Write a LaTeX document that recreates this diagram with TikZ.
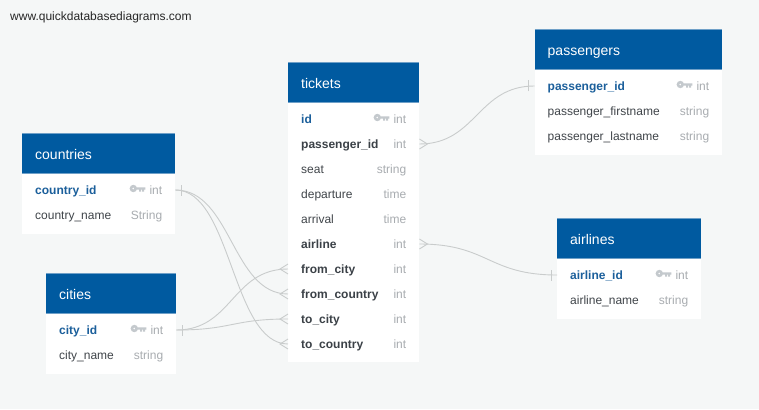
\documentclass[tikz,border=0pt]{standalone}
\usepackage{fontspec}
\setmainfont{Liberation Sans}
\definecolor{bgcol}{HTML}{F5F7F7}
\definecolor{headcol}{HTML}{005AA0}
\definecolor{edgecol}{HTML}{6FA0C8}
\definecolor{pkcol}{HTML}{1B5F9B}
\definecolor{fkcol}{HTML}{3B4147}
\definecolor{namecol}{HTML}{40454A}
\definecolor{typecol}{HTML}{A8ACB0}
\definecolor{linecol}{HTML}{C9CCCC}
\definecolor{keycol}{HTML}{C4C9CD}
\tikzset{
  tablebody/.style={fill=white,inner sep=0pt,anchor=north west},
  tablehead/.style={fill=headcol,inner sep=0pt,anchor=north west,minimum height=40pt},
  tabletitle/.style={text=white,font=\fontsize{14}{16}\selectfont,inner sep=0pt,anchor=west,text height=15pt,text depth=3pt},
  tablerow/.style={inner sep=0pt,anchor=west,minimum height=25pt},
  rowtext/.style={inner sep=0pt,text height=12pt,text depth=3pt,font=\fontsize{12}{14}\selectfont},
  rowname/.style={rowtext,anchor=west,text=namecol},
  rowfk/.style={rowtext,anchor=west,text=fkcol,font=\fontsize{12}{14}\selectfont\bfseries},
  rowpk/.style={rowtext,anchor=west,text=pkcol,font=\fontsize{12}{14}\selectfont\bfseries},
  rowtype/.style={rowtext,anchor=east,text=typecol},
  relation/.style={draw=linecol,line width=0.9pt}
}
% table: name, x, y, width, height, title
\newcommand{\dbtable}[6]{
  \node[tablebody,minimum width=#4pt,minimum height=#5pt] (#1) at (#2,#3) {};
  \node[tablehead,minimum width=#4pt] (#1-head) at (#2,#3) {};
  \draw[edgecol,line width=0.6pt] (#1-head.north west) -- (#1-head.north east);
  \draw[edgecol,line width=0.6pt] (#1-head.south west) -- (#1-head.south east);
  \node[tabletitle] (#1-title) at ([xshift=13pt]#1-head.west) {#6};
}
% row: name, x, y, width, text style, label, type
\newcommand{\dbrow}[7]{
  \node[tablerow,minimum width=#4pt] (#1) at (#2,#3) {};
  \node[#5] (#1-label) at ([xshift=13pt]#1.west) {#6};
  \node[rowtype] (#1-type) at ([xshift=-13pt]#1.east) {#7};
}
% key icon left of the type of a row
\newcommand{\dbkey}[1]{
  \begin{scope}[shift={([xshift=-4pt]#1-type.west)},x=1pt,y=1pt]
    \fill[keycol,even odd rule] (-12,1.5) circle (3.7pt) (-12,1.5) circle (1.1pt);
    \fill[keycol] (-9,2.7) -- (0,2.7) -- (0,0.4) -- (-1.3,0.4) -- (-1.3,-1.6) -- (-3.3,-1.6) -- (-3.3,0.4) -- (-4.3,0.4) -- (-4.3,-1.6) -- (-6.3,-1.6) -- (-6.3,0.4) -- (-9,0.4) -- cycle;
  \end{scope}
}
% the end marks of a relation
\newcommand{\onemark}[2]{
  \draw[relation] ([xshift=#2*6pt,yshift=-5.5pt]#1) -- ([xshift=#2*6pt,yshift=5.5pt]#1);
}
\newcommand{\manymark}[2]{
  \draw[relation] ([yshift=5pt]#1) -- ([xshift=#2*8pt]#1) -- ([yshift=-5pt]#1);
}
\begin{document}
\begin{tikzpicture}[x=1pt,y=-1pt]
  \fill[bgcol,use as bounding box] (0,0) rectangle (759,409);
  \node[rowtext,anchor=west,text=black!85] (site) at (10,16.5) {www.quickdatabasediagrams.com};

  \dbtable{tickets}{288}{62}{131}{300}{tickets}
  \dbrow{tickets-id}{288}{119}{131}{rowpk}{id}{int}
  \dbkey{tickets-id}
  \dbrow{tickets-passenger}{288}{144}{131}{rowfk}{passenger\_id}{int}
  \dbrow{tickets-seat}{288}{169}{131}{rowname}{seat}{string}
  \dbrow{tickets-departure}{288}{194}{131}{rowname}{departure}{time}
  \dbrow{tickets-arrival}{288}{219}{131}{rowname}{arrival}{time}
  \dbrow{tickets-airline}{288}{244}{131}{rowfk}{airline}{int}
  \dbrow{tickets-fromcity}{288}{269}{131}{rowfk}{from\_city}{int}
  \dbrow{tickets-fromcountry}{288}{294}{131}{rowfk}{from\_country}{int}
  \dbrow{tickets-tocity}{288}{319}{131}{rowfk}{to\_city}{int}
  \dbrow{tickets-tocountry}{288}{344}{131}{rowfk}{to\_country}{int}

  \dbtable{passengers}{534.5}{29}{187.5}{126}{passengers}
  \dbrow{passengers-id}{534.5}{86}{187.5}{rowpk}{passenger\_id}{int}
  \dbkey{passengers-id}
  \dbrow{passengers-first}{534.5}{111}{187.5}{rowname}{passenger\_firstname}{string}
  \dbrow{passengers-last}{534.5}{136}{187.5}{rowname}{passenger\_lastname}{string}

  \dbtable{countries}{22}{133}{153}{101}{countries}
  \dbrow{countries-id}{22}{190}{153}{rowpk}{country\_id}{int}
  \dbkey{countries-id}
  \dbrow{countries-name}{22}{215}{153}{rowname}{country\_name}{String}

  \dbtable{cities}{46}{273}{130}{101}{cities}
  \dbrow{cities-id}{46}{330}{130}{rowpk}{city\_id}{int}
  \dbkey{cities-id}
  \dbrow{cities-name}{46}{355}{130}{rowname}{city\_name}{string}

  \dbtable{airlines}{557}{218}{144}{101}{airlines}
  \dbrow{airlines-id}{557}{275}{144}{rowpk}{airline\_id}{int}
  \dbkey{airlines-id}
  \dbrow{airlines-name}{557}{300}{144}{rowname}{airline\_name}{string}

  \draw[relation] (tickets-passenger.east) .. controls +(57,0) and +(-57,0) .. (passengers-id.west);
  \draw[relation] (tickets-airline.east) .. controls +(69,0) and +(-69,0) .. (airlines-id.west);
  \draw[relation] (countries-id.east) .. controls +(56,0) and +(-56,0) .. (tickets-fromcountry.west);
  \draw[relation] (countries-id.east) .. controls +(56,0) and +(-56,0) .. (tickets-tocountry.west);
  \draw[relation] (cities-id.east) .. controls +(56,0) and +(-56,0) .. (tickets-fromcity.west);
  \draw[relation] (cities-id.east) .. controls +(56,0) and +(-56,0) .. (tickets-tocity.west);

  \onemark{passengers-id.west}{-1}
  \onemark{airlines-id.west}{-1}
  \onemark{countries-id.east}{1}
  \onemark{cities-id.east}{1}
  \manymark{tickets-passenger.east}{1}
  \manymark{tickets-airline.east}{1}
  \manymark{tickets-fromcity.west}{-1}
  \manymark{tickets-fromcountry.west}{-1}
  \manymark{tickets-tocity.west}{-1}
  \manymark{tickets-tocountry.west}{-1}
\end{tikzpicture}
\end{document}
